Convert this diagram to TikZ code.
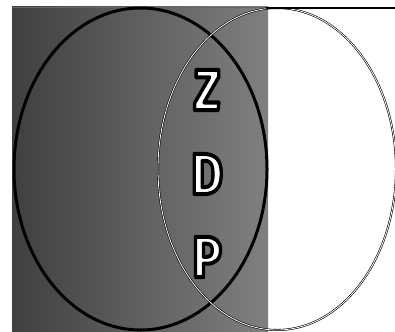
\documentclass[tikz,border=0pt]{standalone}
\usepackage{fontspec}
\setmainfont{Fira Sans}
\newcommand{\outlinedtext}[1]{\special{pdf:literal direct 2 Tr 4 w 1 j 1 J 0 0 0 RG 1 1 1 rg}#1\special{pdf:literal direct 0 Tr 0 0 0 rg}}
\tikzset{
  letter/.style={font=\fontsize{58}{58}\selectfont\bfseries, inner sep=0pt, xscale=0.84},
  lefte/.style={draw=black, line width=3pt},
  righte/.style={draw=black, double=white, line width=0.6pt, double distance=0.8pt}
}
\begin{document}
\begin{tikzpicture}[x=1pt,y=-1pt]
\useasboundingbox (0,0) rectangle (395,331);
\shade[left color=black!75, right color=black!50] (12,7) rectangle (268,331);
\draw[line width=0.4pt, black!60] (12,7) -- (268,7);
\coordinate (lc) at (140.5,169);
\coordinate (rc) at (277,169);
\draw[lefte] (lc) ellipse [x radius=126.5, y radius=161];
\draw[righte] (rc) ellipse [x radius=119, y radius=161];
\coordinate (ts) at (266,8.5);
\coordinate (te) at (395,8.5);
\draw[line width=2pt] (ts) -- (te);
\node[letter] (z) at (207,90) {\outlinedtext{Z}};
\node[letter] (d) at (207,174) {\outlinedtext{D}};
\node[letter] (p) at (207,257) {\outlinedtext{P}};
\end{tikzpicture}
\end{document}
